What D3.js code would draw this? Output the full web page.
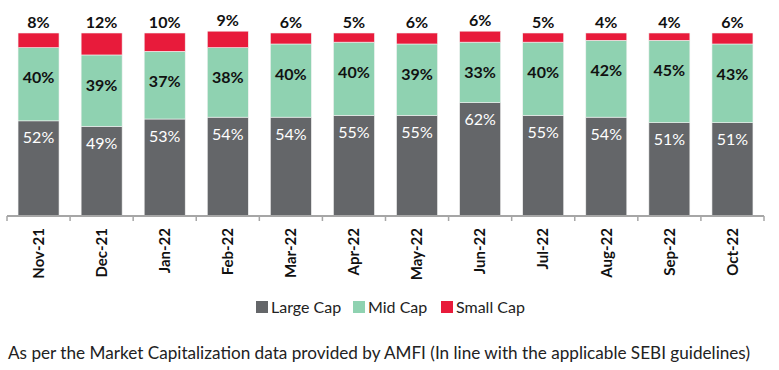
<!DOCTYPE html>
<html><head><meta charset="utf-8">
<script src="https://cdn.jsdelivr.net/npm/d3@7"></script>
<style>body{margin:0;background:#fff}svg{display:block}</style>
</head><body>
<script>
const months = ["Nov-21","Dec-21","Jan-22","Feb-22","Mar-22","Apr-22","May-22","Jun-22","Jul-22","Aug-22","Sep-22","Oct-22"];
const largeCap = [52,49,53,54,54,55,55,62,55,54,51,51];
const midCap   = [40,39,37,38,40,40,39,33,40,42,45,43];
const smallCap = [8,12,10,9,6,5,6,6,5,4,4,6];
const seriesNames = ["Large Cap","Mid Cap","Small Cap"];
const colors = ["#646669","#8fd2b1","#e81b3b"];
const footnote = "As per the Market Capitalization data provided by AMFI (In line with the applicable SEBI guidelines)";

const W=779,H=370;
const svg=d3.select("body").append("svg").attr("width",W).attr("height",H);
const font="Lato, 'Open Sans', sans-serif";

const rows = months.map((m,i)=>({m, "Large Cap":largeCap[i], "Mid Cap":midCap[i], "Small Cap":smallCap[i]}));
const stack = d3.stack().keys(seriesNames)(rows);

const x=d3.scaleBand().domain(months).range([7,764]).paddingInner(0.35).paddingOuter(0.175);
const y=d3.scaleLinear().domain([0,100]).range([216,33]);

stack.forEach((s,si)=>{
  svg.append("g").selectAll("rect").data(s).join("rect")
    .attr("x",d=>x(d.data.m)).attr("width",x.bandwidth())
    .attr("y",d=>y(d[1])).attr("height",d=>y(d[0])-y(d[1]))
    .attr("fill",colors[si]).attr("stroke","#f2f2f2").attr("stroke-width",0.6);
});

const cx=d=>x(d.data.m)+x.bandwidth()/2;
svg.append("g").selectAll("text").data(stack[0]).join("text")
  .attr("x",cx).attr("y",d=>y(d[1])+17).attr("dy","0.35em")
  .attr("text-anchor","middle").attr("fill","#fff").attr("font-family",font)
  .attr("font-size",16).text(d=>(d[1]-d[0])+"%");
svg.append("g").selectAll("text").data(stack[1]).join("text")
  .attr("x",cx).attr("y",d=>y(d[1])+30).attr("dy","0.35em")
  .attr("text-anchor","middle").attr("fill","#111").attr("font-family",font)
  .attr("font-weight","bold").attr("font-size",16).text(d=>(d[1]-d[0])+"%");
svg.append("g").selectAll("text").data(stack[2]).join("text")
  .attr("x",cx).attr("y",d=>y(d[1])-11).attr("dy","0.35em")
  .attr("text-anchor","middle").attr("fill","#111").attr("font-family",font)
  .attr("font-weight","bold").attr("font-size",16).text(d=>(d[1]-d[0])+"%");

const ax=svg.append("g").attr("transform","translate(0,216)");
ax.append("line").attr("x1",7).attr("x2",764).attr("stroke","#a6a6a6").attr("stroke-width",2);
const ticks=months.map(m=>x(m)-x.step()*x.paddingInner()/2).concat([764]);
ax.selectAll("line.t").data(ticks).join("line").attr("class","t")
  .attr("x1",d=>d).attr("x2",d=>d).attr("y1",0).attr("y2",5).attr("stroke","#a6a6a6").attr("stroke-width",1.5);
ax.selectAll("text").data(months).join("text")
  .attr("transform",m=>`translate(${x(m)+x.bandwidth()/2},12) rotate(-90)`)
  .attr("text-anchor","end").attr("dy","0.35em").attr("font-family",font)
  .attr("font-weight","bold").attr("font-size",15).attr("fill","#111").text(m=>m);

const lg=svg.append("g");
const lx=[256,353,441];
seriesNames.forEach((n,i)=>{
  lg.append("rect").attr("x",lx[i]).attr("y",301).attr("width",12).attr("height",12).attr("fill",colors[i]);
  lg.append("text").attr("x",lx[i]+15).attr("y",307).attr("dy","0.35em").attr("font-family",font)
    .attr("font-size",16).attr("fill","#222").text(n);
});

svg.append("text").attr("x",8).attr("y",353).attr("dy","0.35em").attr("font-family",font)
  .attr("font-size",17).attr("fill","#222").attr("textLength",742).attr("lengthAdjust","spacingAndGlyphs").text(footnote);
</script>
</body></html>
